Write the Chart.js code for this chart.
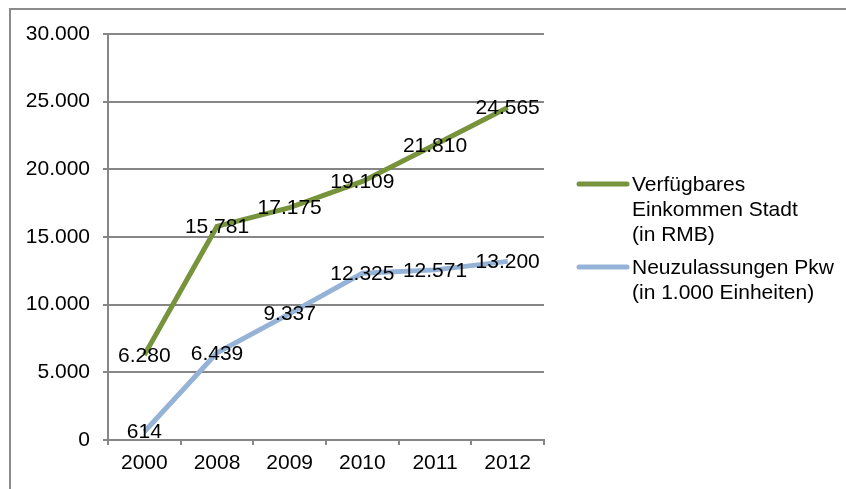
<!DOCTYPE html>
<html>
<head>
<meta charset="utf-8">
<script src="https://cdn.jsdelivr.net/npm/chart.js@4/dist/chart.umd.min.js"></script>
<style>
  html, body { margin: 0; padding: 0; background: #fff; }
  #wrap { position: relative; width: 846px; height: 489px; overflow: hidden; }
  #frame { position: absolute; left: 9px; top: 8px; width: 900px; height: 600px;
           border-left: 2px solid #8c8c8c; border-top: 2px solid #8c8c8c; }
  canvas { position: absolute; left: 0; top: 0; }
</style>
</head>
<body>
<div id="wrap">
  <div id="frame"></div>
  <canvas id="chart" width="846" height="489"></canvas>
</div>
<script>
const categories = ["2000", "2008", "2009", "2010", "2011", "2012"];
const einkommen = [6280, 15781, 17175, 19109, 21810, 24565];
const pkw = [614, 6439, 9337, 12325, 12571, 13200];
const yTicks = [0, 5000, 10000, 15000, 20000, 25000, 30000];
const legendLabels = [
    ["Verfügbares", "Einkommen Stadt", "(in RMB)"],
    ["Neuzulassungen Pkw", "(in 1.000 Einheiten)"]
];

const FONT = "'Liberation Sans', Arial, sans-serif";
const SIZE = 21;

function fmt(n) {
    return String(n).replace(/\B(?=(\d{3})+(?!\d))/g, ".");
}

// value labels centred on each point
const valueLabels = {
    id: "valueLabels",
    afterDatasetsDraw(chart) {
        const ctx = chart.ctx;
        ctx.save();
        ctx.font = SIZE + "px " + FONT;
        ctx.fillStyle = "#000";
        ctx.textAlign = "center";
        ctx.textBaseline = "middle";
        chart.data.datasets.forEach((ds, i) => {
            chart.getDatasetMeta(i).data.forEach((pt, j) => {
                ctx.fillText(fmt(ds.data[j]), pt.x, pt.y + 1);
            });
        });
        ctx.restore();
    }
};

// legend on the right with wrapped text
const sideLegend = {
    id: "sideLegend",
    afterDraw(chart) {
        const ctx = chart.ctx;
        ctx.save();
        ctx.font = SIZE + "px " + FONT;
        ctx.fillStyle = "#000";
        ctx.textBaseline = "middle";
        let y = 185;
        chart.data.datasets.forEach((ds, i) => {
            ctx.strokeStyle = ds.borderColor;
            ctx.lineWidth = 5;
            ctx.lineCap = "round";
            ctx.beginPath();
            ctx.moveTo(579, y - 1);
            ctx.lineTo(627, y - 1);
            ctx.stroke();
            legendLabels[i].forEach((line, k) => {
                ctx.fillText(line, 632, y + k * 25);
            });
            y += legendLabels[i].length * 25 + 8;
        });
        ctx.restore();
    }
};

new Chart(document.getElementById("chart").getContext("2d"), {
    type: "line",
    data: {
        labels: categories,
        datasets: [{
            label: "Verfügbares Einkommen Stadt (in RMB)",
            data: einkommen,
            borderColor: "#77933C",
            borderWidth: 5,
            pointRadius: 0,
            tension: 0
        }, {
            label: "Neuzulassungen Pkw (in 1.000 Einheiten)",
            data: pkw,
            borderColor: "#95B3D7",
            borderWidth: 5,
            pointRadius: 0,
            tension: 0
        }]
    },
    options: {
        responsive: false,
        animation: false,
        layout: { padding: { top: 34, right: 302, left: 0, bottom: 0 } },
        plugins: {
            legend: { display: false },
            tooltip: { enabled: false }
        },
        scales: {
            x: {
                offset: true,
                grid: { offset: true, drawOnChartArea: false, tickLength: 5, color: "#868686", lineWidth: 2 },
                border: { color: "#868686", width: 2 },
                ticks: { color: "#000", font: { size: SIZE, family: FONT }, padding: 6, maxRotation: 0 },
                afterFit(scale) { scale.height = 49; }
            },
            y: {
                min: 0,
                max: 30000,
                afterBuildTicks(scale) { scale.ticks = yTicks.map(v => ({ value: v })); },
                grid: { color: "#868686", lineWidth: 2, tickLength: 5 },
                border: { color: "#868686", width: 2 },
                ticks: { color: "#000", font: { size: SIZE, family: FONT }, padding: 13, callback: v => fmt(v) },
                afterFit(scale) { scale.width = 108; }
            }
        }
    },
    plugins: [valueLabels, sideLegend]
});
</script>
</body>
</html>
